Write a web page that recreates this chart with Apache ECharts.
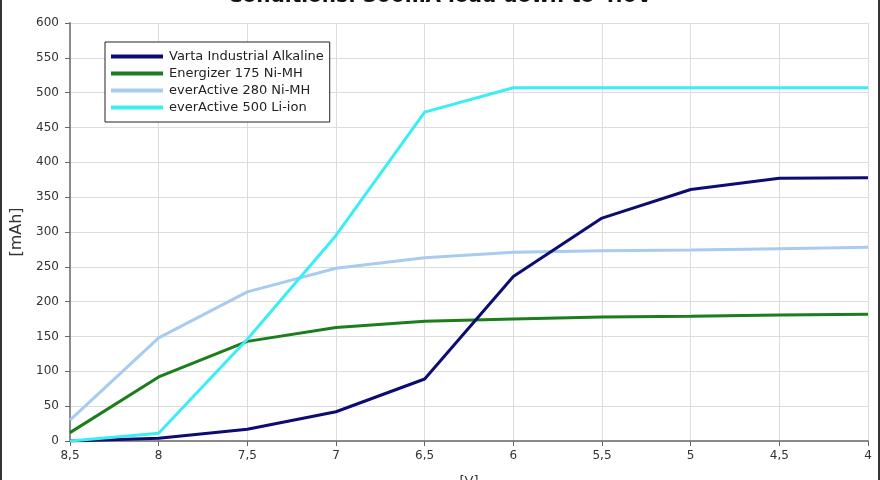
<!DOCTYPE html>
<html>
<head>
<meta charset="utf-8">
<script src="https://cdn.jsdelivr.net/npm/echarts@6/dist/echarts.min.js"></script>
<style>
  html, body { margin: 0; padding: 0; background: #fff; }
  #chart { width: 880px; height: 480px; box-sizing: border-box; border-left: 2px solid #333; border-right: 2px solid #333; }
</style>
</head>
<body>
<div id="chart"></div>
<script>
// voltage steps (reversed: 8,5 -> 4)
const voltages = [8.5, 8, 7.5, 7, 6.5, 6, 5.5, 5, 4.5, 4];

// capacity [mAh] at each voltage
const vartaAlkaline = [0, 4, 17, 42, 89, 236, 320, 361, 377, 378];
const energizer175 = [12, 92, 143, 163, 172, 175, 178, 179, 181, 182];
const everActive280 = [30, 148, 214, 248, 263, 271, 273, 274, 276, 278];
const everActive500 = [0, 11, 146, 295, 472, 507, 507, 507, 507, 507];

const seriesNames = [
  'Varta Industrial Alkaline',
  'Energizer 175 Ni-MH',
  'everActive 280 Ni-MH',
  'everActive 500 Li-ion'
];
const seriesColors = ['#0c0c72', '#1b7d1b', '#a8cbf0', '#3aeef4'];
const seriesValues = [vartaAlkaline, energizer175, everActive280, everActive500];

const font = 'DejaVu Sans';
const comma = v => String(v).replace('.', ',');

const chart = echarts.init(document.getElementById('chart'), null, { renderer: 'canvas' });

const series = seriesValues.map((vals, i) => ({
  name: seriesNames[i],
  type: 'line',
  data: vals.map((y, j) => [voltages[j], y]),
  symbol: 'none',
  showSymbol: false,
  lineStyle: { width: 3, color: seriesColors[i] },
  itemStyle: { color: seriesColors[i] },
  z: 10 - i
}));
// cyan line sits on top like in the original
series[3].z = 12;

chart.setOption({
  animation: false,
  backgroundColor: '#fff',
  textStyle: { fontFamily: font },
  title: {
    text: 'Conditions: 300mA load down to 4.0V',
    left: 'center',
    top: -18,
    textStyle: { fontFamily: font, fontSize: 20, fontWeight: 'bold', color: '#111' }
  },
  grid: { left: 68, right: 10, top: 23, bottom: 39, containLabel: false, outerBoundsMode: 'none' },
  legend: {
    orient: 'vertical',
    left: 103,
    top: 42,
    padding: [8, 6, 8, 6],
    icon: 'rect',
    itemWidth: 52,
    itemHeight: 4,
    itemGap: 4,
    backgroundColor: '#fff',
    borderColor: '#222',
    borderWidth: 1,
    borderRadius: 0,
    textStyle: { fontFamily: font, fontSize: 13, color: '#222', padding: [0, 0, 0, 1] },
    data: seriesNames
  },
  xAxis: {
    type: 'value',
    inverse: true,
    min: 4,
    max: 8.5,
    interval: 0.5,
    name: '[V]',
    nameLocation: 'middle',
    nameGap: 34,
    nameTextStyle: { fontFamily: font, fontSize: 13, color: '#333' },
    axisLine: { show: true, onZero: false, lineStyle: { color: '#8a8a8a', width: 2 } },
    axisTick: { show: true, length: 5, lineStyle: { color: '#666' } },
    axisLabel: { formatter: comma, fontFamily: font, fontSize: 12, color: '#333', margin: 9 },
    splitLine: { show: true, lineStyle: { color: '#dcdcdc', width: 1 } }
  },
  yAxis: {
    type: 'value',
    min: 0,
    max: 600,
    interval: 50,
    name: '[mAh]',
    nameLocation: 'middle',
    nameGap: 41,
    nameTextStyle: { fontFamily: font, fontSize: 16, color: '#333' },
    axisLine: { show: true, lineStyle: { color: '#8a8a8a', width: 2 } },
    axisTick: { show: true, length: 5, lineStyle: { color: '#666' } },
    axisLabel: { fontFamily: font, fontSize: 12, color: '#333', margin: 11 },
    splitLine: { show: true, lineStyle: { color: '#dcdcdc', width: 1 } }
  },
  series: series
});
</script>
</body>
</html>
